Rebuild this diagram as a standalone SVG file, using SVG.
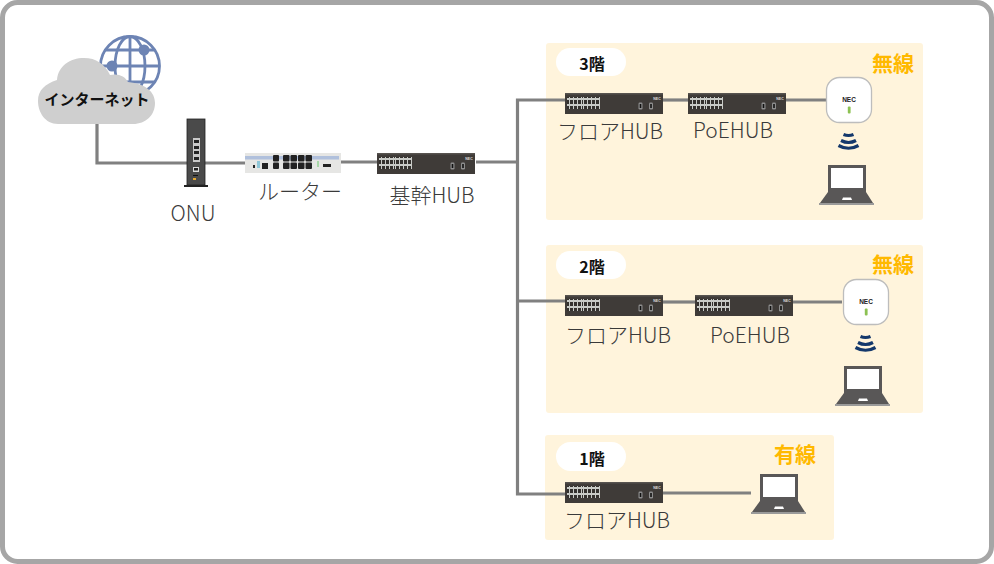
<svg xmlns="http://www.w3.org/2000/svg" width="994" height="564" viewBox="0 0 994 564">
<style>
text{font-family:"Noto Sans CJK JP","Noto Sans",sans-serif}
.lbl{font-size:21px;fill:#3a3a3a;font-weight:300}
.fl{font-size:16px;font-weight:700;fill:#111;text-anchor:middle}
.kind{font-size:21px;font-weight:700;fill:#ffb900;text-anchor:middle}
.panel{fill:#fff4dc}
.pill{fill:#fff}
.wire{fill:none;stroke:#808080;stroke-width:3.200}
.nec{font-family:"Liberation Sans",sans-serif;font-weight:700;text-anchor:middle}
</style>
<defs>
<pattern id="ports" width="4" height="6" patternUnits="userSpaceOnUse"><rect width="4" height="6" fill="#c9cbc7"/><rect x="1" y="1" width="3" height="4" fill="#34312e"/></pattern>
<g id="hub">
<rect width="98" height="21" fill="#3f3b38"/>
<rect width="98" height="1.500" fill="#57534f"/>
<rect x="2" y="4" width="17" height="12" fill="url(#ports)" transform="translate(0,0)"/>
<rect x="20" y="4" width="17" height="12" fill="url(#ports)" transform="translate(-2,0)"/>
<rect x="73.500" y="9.500" width="4" height="7" rx="1.200" fill="#8d8d8d"/><rect x="74.700" y="11" width="1.600" height="4" fill="#111"/>
<rect x="84" y="9.500" width="4" height="7" rx="1.200" fill="#8d8d8d"/><rect x="85.200" y="11" width="1.600" height="4" fill="#111"/>
<text class="nec" x="92" y="6.500" font-size="3.500" fill="#ddd">NEC</text>
</g>
<g id="ap">
<rect x="0.500" y="0.500" width="45" height="45" rx="13" fill="#fff" stroke="#bdbdbd" stroke-width="1.300"/>
<text class="nec" x="23" y="25" font-size="6.500" fill="#222">NEC</text>
<rect x="21.800" y="29.500" width="2.800" height="7" rx="1" fill="#8cc152"/>
</g>
<g id="wifi" fill="none" stroke="#14386b" stroke-width="3.200">
<path d="M7.500 1.500Q12.500 3.500 17.500 1.500"/>
<path d="M5 7.500Q12.500 11.500 20 7.500"/>
<path d="M2.500 12.500Q12.500 18 22.500 12.500"/>
</g>
<g id="laptop">
<rect x="9" y="0" width="38" height="28" fill="#595757"/>
<rect x="12" y="3" width="32" height="20" fill="#fff"/>
<path d="M9 27H47L54 38H1Z" fill="#595757"/>
<rect x="0" y="38" width="55" height="2" fill="#9a9a9a"/>
<path d="M23 35L24 32.500H32L33 35Z" fill="#fff"/>
</g>
</defs>
<rect x="0" y="0" width="994" height="564" fill="#fff"/>
<rect x="2.500" y="2.500" width="989" height="559" rx="15" fill="#fff" stroke="#a6a6a6" stroke-width="5"/>
<g id="panels">
<rect class="panel" x="546" y="43" width="377" height="177" rx="3"/>
<rect class="panel" x="546" y="245" width="377" height="168" rx="3"/>
<rect class="panel" x="545" y="435" width="289" height="105" rx="3"/>
<rect class="pill" x="556" y="48" width="70" height="28" rx="14"/>
<rect class="pill" x="556" y="251" width="70" height="28" rx="14"/>
<rect class="pill" x="556" y="442" width="70" height="29" rx="14.500"/>
<text class="fl" x="592" y="70">3階</text>
<text class="fl" x="592" y="273">2階</text>
<text class="fl" x="592" y="465">1階</text>
<text class="kind" x="893" y="71">無線</text>
<text class="kind" x="893" y="272">無線</text>
<text class="kind" x="795" y="462">有線</text>
</g>
<g id="connectors">
<path class="wire" d="M97 124V163H245"/>
<path class="wire" d="M341 162H377"/>
<path class="wire" d="M476 162H517"/>
<path class="wire" d="M565 100H517.500V494H565"/>
<path class="wire" d="M517 301H565"/>
<path class="wire" d="M663 100H688"/>
<path class="wire" d="M785 100H826"/>
<path class="wire" d="M663 302H695"/>
<path class="wire" d="M793 302H842"/>
<path class="wire" d="M663 493H751"/>
</g>
<g id="internet">
<g fill="none" stroke="#6d84b4" stroke-width="2.800">
<circle cx="130" cy="66" r="29.500"/>
<ellipse cx="130" cy="66" rx="15" ry="29.500"/>
<path d="M130 36V96M100 66H160M105 50H155M105 82H155"/>
</g>
<circle cx="144" cy="50" r="5.500" fill="#6d84b4"/>
<circle cx="112" cy="66" r="5.500" fill="#6d84b4"/>
<path d="M58 124C45 124 38 112 38 101C38 90 45 84 57 80C58 66 70 58 84 58C96 58 105 64 110 75C118 73 125 76 128 82C146 84 155 92 155 103C155 115 146 124 133 124Z" fill="#cfcfcf"/>
<text x="97" y="105" font-size="15" font-weight="700" fill="#111" text-anchor="middle">インターネット</text>
</g>
<g id="onu">
<rect x="187" y="119" width="18" height="66" fill="#4a4a4a" stroke="#222" stroke-width="0.800"/>
<rect x="184" y="185" width="24" height="2" fill="#222"/>
<rect x="193" y="138" width="7" height="24" fill="#c9c9c9"/>
<path d="M194 140h5v3h-5zM194 146h5v3h-5zM194 151h5v3h-5zM194 157h5v3h-5z" fill="#222"/>
<rect x="193" y="167" width="6" height="5" fill="#ddd"/><rect x="194" y="168" width="4" height="2.500" fill="#222"/>
<rect x="193" y="178" width="3" height="2" fill="#e6a92e"/>
<rect x="193" y="175" width="5" height="1" fill="#111"/>
<text class="lbl" x="193" y="221" text-anchor="middle">ONU</text>
</g>
<g id="router">
<rect x="245" y="153" width="96" height="20" fill="#e6e6e4"/>
<rect x="245" y="156" width="94" height="3.500" fill="#b0c0dc"/>
<g fill="#222">
<rect x="273" y="155" width="6" height="6.500" rx="1"/><rect x="273" y="162.500" width="6" height="6.500" rx="1"/>
<rect x="283" y="155" width="6.500" height="6.500" rx="1"/><rect x="283" y="162.500" width="6.500" height="6.500" rx="1"/>
<rect x="290.500" y="155" width="6.500" height="6.500" rx="1"/><rect x="290.500" y="162.500" width="6.500" height="6.500" rx="1"/>
<rect x="298" y="155" width="6.500" height="6.500" rx="1"/><rect x="298" y="162.500" width="6.500" height="6.500" rx="1"/>
<rect x="305.500" y="155" width="6.500" height="6.500" rx="1"/><rect x="305.500" y="162.500" width="6.500" height="6.500" rx="1"/>
<rect x="262" y="163" width="6" height="6"/><rect x="323" y="164" width="8" height="3"/><rect x="253" y="165" width="2" height="3"/>
</g>
<rect x="257" y="161" width="3" height="7" fill="#8fc7d8"/>
<rect x="317" y="161" width="2" height="6" fill="#a8d8a8"/>
<text class="lbl" x="300" y="199" text-anchor="middle">ルーター</text>
</g>
<g id="core-hub"><use href="#hub" x="377" y="153"/><text class="lbl" x="432" y="203" text-anchor="middle">基幹HUB</text></g>
<g id="f3-hub"><use href="#hub" x="565" y="93"/><text class="lbl" x="610" y="139" text-anchor="middle">フロアHUB</text></g>
<g id="f3-poe"><use href="#hub" x="688" y="93"/><text class="lbl" x="733" y="138" text-anchor="middle">PoEHUB</text></g>
<g id="f3-ap"><use href="#ap" x="826" y="77"/></g>
<g id="f3-wifi"><use href="#wifi" x="836" y="133"/></g>
<g id="f3-laptop"><use href="#laptop" x="819" y="165"/></g>
<g id="f2-hub"><use href="#hub" x="565" y="295"/><text class="lbl" x="618" y="343" text-anchor="middle">フロアHUB</text></g>
<g id="f2-poe"><use href="#hub" x="695" y="295"/><text class="lbl" x="750" y="343" text-anchor="middle">PoEHUB</text></g>
<g id="f2-ap"><use href="#ap" x="843" y="279"/></g>
<g id="f2-wifi"><use href="#wifi" x="853" y="335"/></g>
<g id="f2-laptop"><use href="#laptop" x="835" y="366"/></g>
<g id="f1-hub"><use href="#hub" x="565" y="482"/><text class="lbl" x="617" y="528" text-anchor="middle">フロアHUB</text></g>
<g id="f1-laptop"><use href="#laptop" x="751" y="474"/></g>
</svg>
